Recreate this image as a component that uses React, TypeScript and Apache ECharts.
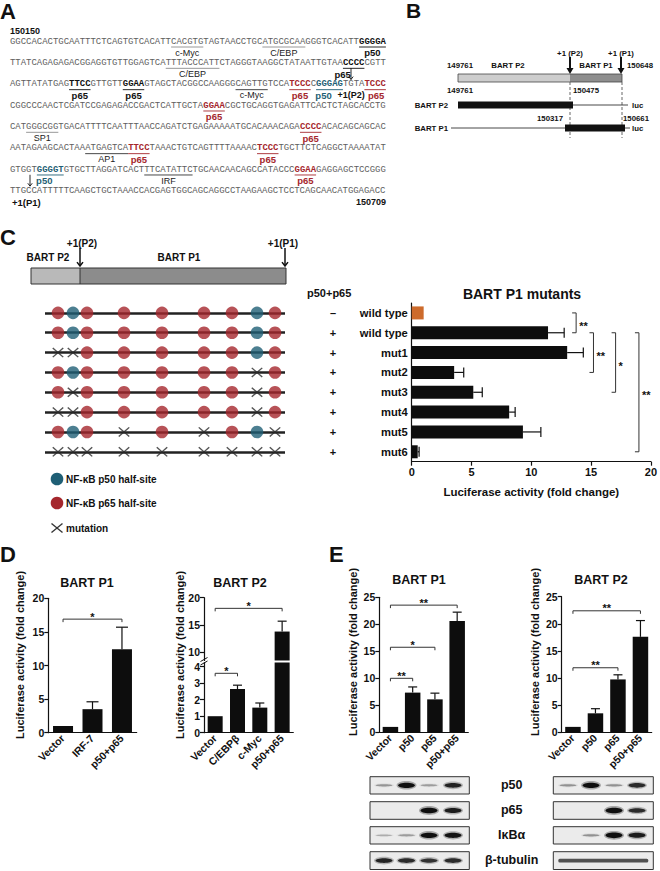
import React, { useEffect, useRef } from "react";
import * as echarts from "echarts";

const SANS = "'Liberation Sans', Arial, Helvetica, sans-serif";
const MONO = "'Liberation Mono', 'DejaVu Sans Mono', monospace";
const INK = "#111111";
const RED = "#a5272d";
const BLUE = "#1f5f75";
const ORANGE = "#cd6b2c";
const SEQ_GRAY = "#5e5e5e";

// ---------------- Panel A: sequence ----------------
const seqStartLabel = "150150";
const seqEndLabel = "150709";
const seqLines = [
  "GGCCACACTGCAATTTCTCAGTGTCACATTCACGTGTAGTAACCTGCATGCGCAAGGGTCACATTGGGGA",
  "TTATCAGAGAGACGGAGGTGTTGGAGTCATTTACCCATTCTAGGGTAAGGCTATAATTGTAACCCCCGTT",
  "AGTTATATGAGTTCCGTTGTTGGAAGTAGCTACGGCCAAGGGCAGTTGTCCATCCCCGGGAGTGTATCCC",
  "CGGCCCAACTCGATCCGAGAGACCGACTCATTGCTAGGAACGCTGCAGGTGAGATTCACTCTAGCACCTG",
  "CATGGGCGGTGACATTTTCAATTTAACCAGATCTGAGAAAAATGCACAAACAGACCCCACACAGCAGCAC",
  "AATAGAAGCACTAAATGAGTCATTCCTAAACTGTCAGTTTTAAAACTCCCTGCTTCTCAGGCTAAAATAT",
  "GTGGTGGGGTGTGCTTAGGATCACTTTCATATTCTGCAACAACAGCCATACCCGGAAGAGGAGCTCCGGG",
  "TTGCCATTTTTCAAGCTGCTAAACCACGAGTGGCAGCAGGCCTAAGAAGCTCCTCAGCAACATGGAGACC",
];
// [line, start, end(incl), kind, label, labelDx]
const seqFeatures: [number, number, number, string, string, number][] = [
  [0, 30, 35, "tf", "c-Myc", 0],
  [0, 47, 54, "tf", "C/EBP", 0],
  [0, 65, 69, "k", "p50", 0],
  [1, 29, 38, "tf", "C/EBP", 0],
  [1, 62, 65, "k", "p65", -11],
  [2, 11, 14, "k", "p65", 0],
  [2, 21, 24, "k", "p65", 0],
  [2, 42, 47, "tf2", "c-Myc", 0],
  [2, 52, 55, "r", "p65", 0],
  [2, 57, 61, "b", "p50", -6],
  [2, 66, 69, "r", "p65", 1],
  [3, 36, 39, "r", "p65", 0],
  [4, 3, 8, "tf", "SP1", 0],
  [4, 54, 57, "r", "p65", 0],
  [5, 14, 21, "tf2", "AP1", 0],
  [5, 22, 25, "r", "p65", 0],
  [5, 46, 49, "r", "p65", 0],
  [6, 5, 9, "b", "p50", -6],
  [6, 25, 33, "tf2", "IRF", 0],
  [6, 53, 56, "r", "p65", 0],
];

// ---------------- Panel C: site diagram ----------------
const sitePositions = [13, 28, 42, 79, 117, 159, 187, 212, 230];
const siteTypes = ["p65", "p50", "p65", "p65", "p65", "p65", "p65", "p50", "p65"];
const mutatedSites: number[][] = [
  [],
  [],
  [0, 1],
  [7],
  [1, 7],
  [0, 1, 7],
  [3, 5, 8],
  [0, 1, 2, 3, 4, 5, 6, 7, 8],
];

// ---------------- Panel C: bar chart ----------------
const cCategories = ["wild type", "wild type", "mut1", "mut2", "mut3", "mut4", "mut5", "mut6"];
const cSigns = ["–", "+", "+", "+", "+", "+", "+", "+"];
const cMeans = [1.0, 11.4, 13.0, 3.55, 5.15, 8.15, 9.3, 0.5];
const cErrTop = [1.0, 12.75, 14.35, 4.35, 5.9, 8.65, 10.8, 0.62];
const cSig: [number, number, number, string][] = [
  [0, 1, 13.75, "**"],
  [1, 3, 15.2, "**"],
  [1, 4, 17.05, "*"],
  [1, 7, 19.0, "**"],
];

// ---------------- Panel D ----------------
const d1Categories = ["Vector", "IRF-7", "p50+p65"];
const d1Means = [1.0, 3.5, 12.4];
const d1ErrTop = [1.0, 4.6, 15.7];
const d1Sig: [number, number, number, string][] = [[0, 2, 16.9, "*"]];

const d2Categories = ["Vector", "C/EBPβ", "c-Myc", "p50+p65"];
const d2Means = [1.0, 2.65, 1.52, 13.8];
const d2ErrTop = [1.0, 2.88, 1.8, 15.7];
const d2LowerMax = 4.25;
const d2UpperMin = 8.5;
const d2LowerTicks = [0, 1, 2, 3, 4];
const d2UpperTicks = [10, 15, 20];
const d2Sig: [number, number, number, string][] = [
  [0, 1, 3.6, "*"],
  [0, 3, 18.05, "*"],
];

// ---------------- Panel E ----------------
const eCategories = ["Vector", "p50", "p65", "p50+p65"];
const e1Means = [1.0, 7.35, 6.1, 20.6];
const e1ErrTop = [1.0, 8.4, 7.25, 22.25];
const e1Sig: [number, number, number, string][] = [
  [0, 3, 23.55, "**"],
  [0, 2, 15.75, "*"],
  [0, 1, 10.0, "**"],
];
const e2Means = [1.0, 3.5, 9.75, 17.6];
const e2ErrTop = [1.0, 4.35, 10.6, 20.6];
const e2Sig: [number, number, number, string][] = [
  [0, 3, 22.4, "**"],
  [0, 2, 11.9, "**"],
];

// Western blot band intensities (lanes: Vector, p50, p65, p50+p65)
const blotRows = ["p50", "p65", "IκBα", "β-tubulin"];
const blotLeft = [
  [0.18, 0.95, 0.15, 0.8],
  [0, 0, 1, 0.85],
  [0.08, 0.15, 0.95, 0.9],
  [0.8, 0.75, 0.7, 0.75],
];
const blotRight = [
  [0.2, 0.95, 0.2, 0.75],
  [0, 0, 1, 0.75],
  [0, 0.2, 1, 0.85],
  [0.65, 0.65, 0.65, 0.65],
];

function buildOption() {
  const g: any[] = [];
  const txt = (text: string, x: number, y: number, o: any = {}) => {
    const align = o.align || "left";
    const va = o.verticalAlign || "middle";
    g.push({
      type: "text",
      x,
      y,
      rotation: o.rotation || 0,
      silent: true,
      style: {
        text,
        fill: o.fill || INK,
        fontSize: o.fontSize || 9,
        fontWeight: o.fontWeight || "normal",
        fontFamily: o.fontFamily || SANS,
        align,
        verticalAlign: va,
        textAlign: align,
        textVerticalAlign: va,
      },
    });
  };
  const line = (x1: number, y1: number, x2: number, y2: number, stroke = INK, lineWidth = 1, extra: any = {}) =>
    g.push({ type: "line", silent: true, shape: { x1, y1, x2, y2 }, style: { stroke, lineWidth, ...extra } });
  const rect = (x: number, y: number, width: number, height: number, fill: string, stroke?: string, lw = 1) =>
    g.push({
      type: "rect",
      silent: true,
      shape: { x, y, width, height },
      style: { fill, stroke: stroke || "none", lineWidth: lw },
    });
  const filledArrow = (x: number, y1: number, y2: number) => {
    line(x, y1, x, y2 - 5, INK, 2);
    g.push({
      type: "polygon",
      silent: true,
      shape: { points: [[x - 3.5, y2 - 6], [x + 3.5, y2 - 6], [x, y2]] },
      style: { fill: INK },
    });
  };
  const chevronArrow = (x: number, y1: number, y2: number, lw: number, hw: number) => {
    line(x, y1, x, y2, INK, lw);
    g.push({
      type: "polyline",
      silent: true,
      shape: { points: [[x - hw, y2 - hw * 1.3], [x, y2], [x + hw, y2 - hw * 1.3]] },
      style: { stroke: INK, lineWidth: lw, fill: "none" },
    });
  };

  // ---------- Panel A ----------
  txt("A", 0, 11, { fontSize: 22, fontWeight: "bold" });
  txt(seqStartLabel, 10, 31, { fontSize: 9, fontWeight: "bold" });
  const X0 = 10;
  const CW = 5.37;
  const SEQ_FS = 8.95;
  const LY0 = 41.8;
  const LDY = 21.33;
  const colorMap: any = { n: SEQ_GRAY, k: INK, r: RED, b: BLUE };
  seqLines.forEach((seq, li) => {
    const y = LY0 + li * LDY;
    const feats = seqFeatures.filter((f) => f[0] === li).sort((a, b) => a[1] - b[1]);
    let pos = 0;
    const seg = (s: number, e: number, kind: string) => {
      g.push({
        type: "text",
        x: X0 + s * CW,
        y,
        silent: true,
        style: {
          text: seq.slice(s, e),
          fill: colorMap[kind],
          fontFamily: MONO,
          fontSize: SEQ_FS,
          fontWeight: kind === "n" ? "normal" : "bold",
          align: "left",
          verticalAlign: "middle",
          textAlign: "left",
          textVerticalAlign: "middle",
        },
      });
    };
    for (const f of feats) {
      const [, s, e, kind, label, dx] = f;
      const isTF = kind.startsWith("tf");
      if (s > pos) seg(pos, s, "n");
      seg(s, e + 1, isTF ? "n" : kind);
      pos = e + 1;
      const ul = kind === "tf" ? "#8c8c8c" : kind === "tf2" ? "#333333" : colorMap[kind];
      line(X0 + s * CW, y + 5.2, X0 + (e + 1) * CW, y + 5.2, ul, 0.9);
      const cx = X0 + ((s + e + 1) / 2) * CW + dx;
      txt(label, cx, y + 11, {
        align: "center",
        fontSize: isTF ? 9 : 9.5,
        fontWeight: isTF ? "normal" : "bold",
        fill: isTF ? "#222" : colorMap[kind],
      });
    }
    if (pos < seq.length) seg(pos, seq.length, "n");
  });
  // +1(P2) arrow and label
  txt("+1(P2)", 351, LY0 + 2 * LDY + 11, { align: "center", fontSize: 9, fontWeight: "bold" });
  chevronArrow(351, LY0 + LDY + 5, LY0 + 2 * LDY - 5, 0.9, 2.2);
  // +1(P1)
  chevronArrow(30, LY0 + 6 * LDY + 5, LY0 + 7 * LDY - 5, 0.9, 2.2);
  txt("+1(P1)", 12, LY0 + 7 * LDY + 11, { fontSize: 9.5, fontWeight: "bold" });
  txt(seqEndLabel, 386, LY0 + 7 * LDY + 11, { align: "right", fontSize: 9, fontWeight: "bold" });

  // ---------- Panel B ----------
  const bf = { fontSize: 7.8, fontWeight: "bold" };
  txt("B", 406, 10, { fontSize: 21, fontWeight: "bold" });
  txt("+1 (P2)", 570, 53, { ...bf, align: "center" });
  txt("+1 (P1)", 621, 53, { ...bf, align: "center" });
  txt("149761", 460, 65, { ...bf, align: "center" });
  txt("BART P2", 508, 65, { ...bf, align: "center" });
  txt("BART P1", 596, 65, { ...bf, align: "center" });
  txt("150648", 627, 65, { ...bf });
  rect(458, 74, 112, 8, "#cdcdcd");
  rect(570, 74, 52, 8, "#8e8e8e");
  rect(458, 74, 164, 8, "none", "#444", 0.8);
  filledArrow(570, 57, 74);
  filledArrow(621, 57, 74);
  line(570, 82, 570, 138, "#555", 0.9, { lineDash: [3, 2] });
  line(622, 82, 622, 138, "#555", 0.9, { lineDash: [3, 2] });
  txt("149761", 460, 90, { ...bf, align: "center" });
  txt("150475", 586, 90, { ...bf, align: "center" });
  txt("BART P2", 448, 105, { ...bf, align: "right" });
  rect(458, 101.5, 115, 7, INK);
  line(573, 105, 628, 105, "#333", 0.9);
  txt("luc", 632, 105, { ...bf });
  txt("150317", 563, 118, { ...bf, align: "right" });
  txt("150661", 623, 118, { ...bf });
  txt("BART P1", 448, 128, { ...bf, align: "right" });
  line(451, 128, 565, 128, "#333", 0.9);
  rect(565, 124.5, 60, 7, INK);
  line(625, 128, 630, 128, "#333", 0.9);
  txt("luc", 632, 128, { ...bf });

  // ---------- Panel C header ----------
  txt("C", 0, 237, { fontSize: 22, fontWeight: "bold" });
  txt("+1(P2)", 82, 243, { align: "center", fontSize: 10, fontWeight: "bold" });
  txt("+1(P1)", 283, 243, { align: "center", fontSize: 10, fontWeight: "bold" });
  txt("BART P2", 48, 257, { align: "center", fontSize: 10, fontWeight: "bold" });
  txt("BART P1", 179, 257, { align: "center", fontSize: 10, fontWeight: "bold" });
  rect(31, 268, 49, 16, "#b9b9b9");
  rect(80, 268, 206, 16, "#8c8c8c");
  rect(31, 268, 255, 16, "none", "#333", 1);
  line(80, 268, 80, 284, "#333", 1);
  chevronArrow(80, 248, 266, 1.5, 3);
  chevronArrow(285, 248, 266, 1.5, 3);
  // legend
  g.push({ type: "circle", silent: true, shape: { cx: 57, cy: 479, r: 6.3 }, style: { fill: BLUE } });
  txt("NF-κB p50 half-site", 66, 479, { fontSize: 10, fontWeight: "bold" });
  g.push({ type: "circle", silent: true, shape: { cx: 57, cy: 503, r: 6.3 }, style: { fill: RED } });
  txt("NF-κB p65 half-site", 66, 503, { fontSize: 10, fontWeight: "bold" });
  line(51.5, 523.5, 62.5, 532.5, "#333", 1.3);
  line(62.5, 523.5, 51.5, 532.5, "#333", 1.3);
  txt("mutation", 66, 528, { fontSize: 10, fontWeight: "bold" });
  txt("p50+p65", 307, 293, { fontSize: 11, fontWeight: "bold" });
  txt("BART P1 mutants", 522, 294, { align: "center", fontSize: 14, fontWeight: "bold" });

  // ---------- Panel D / E titles & axis names ----------
  txt("D", 0, 554, { fontSize: 22, fontWeight: "bold" });
  txt("E", 329, 554, { fontSize: 22, fontWeight: "bold" });
  const titleF = { align: "center", fontSize: 12.5, fontWeight: "bold" };
  txt("BART P1", 87, 583, titleF);
  txt("BART P2", 240, 583, titleF);
  txt("BART P1", 419, 580, titleF);
  txt("BART P2", 601, 580, titleF);
  const yName = "Luciferase activity (fold change)";
  const nameF = { align: "center", fontSize: 11, fontWeight: "bold", rotation: Math.PI / 2 };
  txt(yName, 20, 655, nameF);
  txt(yName, 180, 655, nameF);
  txt(yName, 353, 652, nameF);
  txt(yName, 535, 652, nameF);
  // axis break marks (D, BART P2)
  line(200.5, 665, 207.5, 661, INK, 1);
  line(200.5, 661.5, 207.5, 657.5, INK, 1);

  // ---------- Western blots ----------
  const boxRows = [
    [776.7, 794],
    [801.7, 819.3],
    [826.7, 844],
    [851.7, 869.5],
  ];
  const drawBlot = (x0: number, x1: number, lanes: number[], data: number[][], continuousLast: boolean) => {
    boxRows.forEach(([y0, y1], ri) => {
      rect(x0, y0, x1 - x0, y1 - y0, "#ebebeb", "#333", 1);
      const cy = (y0 + y1) / 2;
      if (continuousLast && ri === 3) {
        g.push({
          type: "rect",
          silent: true,
          shape: { x: x0 + 5, y: cy - 1.8, width: x1 - x0 - 10, height: 3.6, r: 1.5 },
          style: { fill: "rgba(30,30,30,0.75)" },
        });
        return;
      }
      data[ri].forEach((I, li) => {
        if (I <= 0) return;
        g.push({
          type: "ellipse",
          silent: true,
          shape: { cx: lanes[li], cy, rx: 10, ry: 1.6 + 2.8 * I },
          style: { fill: `rgba(40,40,40,${0.35 * I})` },
        });
        g.push({
          type: "ellipse",
          silent: true,
          shape: { cx: lanes[li], cy, rx: 8.5, ry: 0.8 + 2.0 * I },
          style: { fill: `rgba(15,15,15,${Math.min(1, 0.2 + 0.85 * I)})` },
        });
      });
    });
  };
  drawBlot(370, 469.3, [384, 406.5, 429, 453], blotLeft, false);
  drawBlot(553.3, 653.3, [568, 591, 614, 637], blotRight, true);
  const blotLabelY = [785, 810, 835, 860];
  blotRows.forEach((r, i) => txt(r, 511.7, blotLabelY[i], { align: "center", fontSize: 12.5, fontWeight: "bold" }));

  // ---------- axes helpers ----------
  const lbl = { color: INK, fontWeight: "bold", fontFamily: SANS };
  const valAxis = (gridIndex: number, min: number, max: number, interval: number | undefined, extra: any = {}) => ({
    type: "value",
    gridIndex,
    min,
    max,
    interval,
    axisLine: { show: true, lineStyle: { color: INK, width: 1.2 } },
    axisTick: { show: true, inside: false, length: 4, lineStyle: { color: INK, width: 1.2 } },
    axisLabel: { ...lbl, fontSize: 10.5, margin: 4 },
    splitLine: { show: false },
    ...extra,
  });
  const catX = (gridIndex: number, data: string[], show = true) => ({
    type: "category",
    gridIndex,
    data,
    show,
    axisLine: { show: true, lineStyle: { color: INK, width: 1.2 } },
    axisTick: { show: false },
    axisLabel: { ...lbl, fontSize: 10.5, rotate: 45, margin: 4, interval: 0 },
  });

  const vErr = (xi: number, yi: number, means: number[], tops: number[], capHalf: number, filter?: (t: number) => boolean) => ({
    type: "custom",
    xAxisIndex: xi,
    yAxisIndex: yi,
    silent: true,
    z: 3,
    data: means
      .map((m, i) => [i, m, tops[i]])
      .filter((d) => d[2] > d[1] && (!filter || filter(d[2]))),
    renderItem: (p: any, api: any) => {
      const i = api.value(0);
      const a = api.coord([i, api.value(1)]);
      const b = api.coord([i, api.value(2)]);
      return {
        type: "group",
        children: [
          { type: "line", shape: { x1: a[0], y1: a[1], x2: b[0], y2: b[1] }, style: { stroke: INK, lineWidth: 1.2 } },
          { type: "line", shape: { x1: b[0] - capHalf, y1: b[1], x2: b[0] + capHalf, y2: b[1] }, style: { stroke: INK, lineWidth: 1.2 } },
        ],
      };
    },
  });
  const vSig = (xi: number, yi: number, sigs: [number, number, number, string][]) => ({
    type: "custom",
    xAxisIndex: xi,
    yAxisIndex: yi,
    silent: true,
    z: 3,
    data: sigs.map((s) => [s[0], s[1], s[2]]),
    renderItem: (p: any, api: any) => {
      const lev = api.value(2);
      const a = api.coord([api.value(0), lev]);
      const b = api.coord([api.value(1), lev]);
      const label = sigs[p.dataIndex][3];
      return {
        type: "group",
        children: [
          {
            type: "polyline",
            shape: { points: [[a[0], a[1] + 3], [a[0], a[1]], [b[0], b[1]], [b[0], b[1] + 3]] },
            style: { stroke: "#333", lineWidth: 1, fill: "none" },
          },
          {
            type: "text",
            style: {
              text: label,
              x: (a[0] + b[0]) / 2,
              y: a[1] + 3,
              fill: INK,
              fontSize: 11,
              fontWeight: "bold",
              fontFamily: SANS,
              align: "center",
              verticalAlign: "bottom",
              textAlign: "center",
              textVerticalAlign: "bottom",
            },
          },
        ],
      };
    },
  });
  const bars = (xi: number, yi: number, data: any[], barWidth: number) => ({
    type: "bar",
    xAxisIndex: xi,
    yAxisIndex: yi,
    data,
    barWidth,
    silent: true,
    clip: true,
    itemStyle: { color: "#0d0d0d" },
  });

  // ---------- site diagram series ----------
  const p65Pts: number[][] = [];
  const p50Pts: number[][] = [];
  const mutPts: number[][] = [];
  mutatedSites.forEach((muts, r) => {
    sitePositions.forEach((pos, s) => {
      if (muts.includes(s)) mutPts.push([pos, r]);
      else if (siteTypes[s] === "p50") p50Pts.push([pos, r]);
      else p65Pts.push([pos, r]);
    });
  });
  const X_PATH =
    "path://M0,0.9L0.9,0L5,4.1L9.1,0L10,0.9L5.9,5L10,9.1L9.1,10L5,5.9L0.9,10L0,9.1L4.1,5Z";

  const option: any = {
    animation: false,
    backgroundColor: "#ffffff",
    textStyle: { fontFamily: SANS },
    grid: [
      { left: 45, top: 312.9, width: 240, height: 138.9 },
      { left: 411.7, top: 303, width: 243.3, height: 158.7 },
      { left: 48.3, top: 598.3, width: 88.4, height: 134.4 },
      { left: 204, top: 732.7 - d2LowerMax * 16.5, width: 89.3, height: d2LowerMax * 16.5 },
      { left: 204, top: 597.7, width: 89.3, height: (20 - d2UpperMin) * 5.46 },
      { left: 379.3, top: 597.3, width: 89, height: 135 },
      { left: 561.7, top: 596.7, width: 90, height: 135.6 },
    ],
    xAxis: [
      { type: "value", gridIndex: 0, min: 0, max: 240, show: false },
      valAxis(1, 0, 20, 5, {
        axisLabel: { ...lbl, fontSize: 11, margin: 5 },
        name: "Luciferase activity (fold change)",
        nameLocation: "middle",
        nameGap: 24,
        nameTextStyle: { ...lbl, fontSize: 11.5 },
      }),
      catX(2, d1Categories),
      catX(3, d2Categories),
      catX(4, d2Categories, false),
      catX(5, eCategories),
      catX(6, eCategories),
    ],
    yAxis: [
      {
        type: "category",
        gridIndex: 0,
        data: mutatedSites.map((_, i) => `row${i + 1}`),
        inverse: true,
        boundaryGap: false,
        axisLine: { show: false },
        axisTick: { show: false },
        axisLabel: { show: false },
        splitLine: { show: true, interval: 0, lineStyle: { color: "#222", width: 2.6 } },
      },
      {
        type: "category",
        gridIndex: 1,
        data: cCategories,
        inverse: true,
        axisLine: { show: true, lineStyle: { color: INK, width: 1.2 } },
        axisTick: { show: false },
        axisLabel: { ...lbl, fontSize: 11.2, margin: 4, interval: 0 },
      },
      {
        type: "category",
        gridIndex: 1,
        data: cSigns,
        inverse: true,
        position: "left",
        offset: 78.7,
        axisLine: { show: false },
        axisTick: { show: false },
        axisLabel: { ...lbl, fontSize: 11, margin: 0, align: "center", interval: 0 },
      },
      valAxis(2, 0, 20, 5),
      valAxis(3, 0, d2LowerMax, undefined, {
        axisTick: { show: true, length: 4, lineStyle: { color: INK, width: 1.2 }, customValues: d2LowerTicks },
        axisLabel: { ...lbl, fontSize: 10.5, margin: 4, customValues: d2LowerTicks },
      }),
      valAxis(4, d2UpperMin, 20, undefined, {
        axisTick: { show: true, length: 4, lineStyle: { color: INK, width: 1.2 }, customValues: d2UpperTicks },
        axisLabel: { ...lbl, fontSize: 10.5, margin: 4, customValues: d2UpperTicks },
      }),
      valAxis(5, 0, 25, 5),
      valAxis(6, 0, 25, 5),
    ],
    series: [
      {
        type: "scatter",
        xAxisIndex: 0,
        yAxisIndex: 0,
        data: p65Pts,
        symbol: "circle",
        symbolSize: 12.6,
        itemStyle: { color: RED },
        silent: true,
        z: 3,
      },
      {
        type: "scatter",
        xAxisIndex: 0,
        yAxisIndex: 0,
        data: p50Pts,
        symbol: "circle",
        symbolSize: 12.6,
        itemStyle: { color: BLUE },
        silent: true,
        z: 3,
      },
      {
        type: "scatter",
        xAxisIndex: 0,
        yAxisIndex: 0,
        data: mutPts,
        symbol: X_PATH,
        symbolSize: [11.5, 10],
        symbolKeepAspect: false,
        itemStyle: { color: "#2a2a2a" },
        silent: true,
        z: 3,
      },
      // panel C bars
      {
        type: "bar",
        xAxisIndex: 1,
        yAxisIndex: 1,
        barWidth: 13,
        silent: true,
        data: cMeans.map((v, i) => ({ value: v, itemStyle: { color: i === 0 ? ORANGE : "#0d0d0d" } })),
      },
      {
        type: "custom",
        xAxisIndex: 1,
        yAxisIndex: 1,
        silent: true,
        z: 3,
        data: cMeans.map((m, i) => [m, i, cErrTop[i]]).filter((d) => d[2] > d[0]),
        renderItem: (p: any, api: any) => {
          const i = api.value(1);
          const a = api.coord([api.value(0), i]);
          const b = api.coord([api.value(2), i]);
          return {
            type: "group",
            children: [
              { type: "line", shape: { x1: a[0], y1: a[1], x2: b[0], y2: b[1] }, style: { stroke: INK, lineWidth: 1.2 } },
              { type: "line", shape: { x1: b[0], y1: b[1] - 5, x2: b[0], y2: b[1] + 5 }, style: { stroke: INK, lineWidth: 1.2 } },
            ],
          };
        },
      },
      {
        type: "custom",
        xAxisIndex: 1,
        yAxisIndex: 1,
        silent: true,
        z: 3,
        data: cSig.map((s) => [s[2], s[0], s[1]]),
        renderItem: (p: any, api: any) => {
          const lev = api.value(0);
          const a = api.coord([lev, api.value(1)]);
          const b = api.coord([lev, api.value(2)]);
          return {
            type: "group",
            children: [
              {
                type: "polyline",
                shape: { points: [[a[0] - 4, a[1]], [a[0], a[1]], [b[0], b[1]], [b[0] - 4, b[1]]] },
                style: { stroke: "#333", lineWidth: 1, fill: "none" },
              },
              {
                type: "text",
                style: {
                  text: cSig[p.dataIndex][3],
                  x: a[0] + 3,
                  y: (a[1] + b[1]) / 2 + 3,
                  fill: INK,
                  fontSize: 11,
                  fontWeight: "bold",
                  fontFamily: SANS,
                  align: "left",
                  verticalAlign: "middle",
                  textAlign: "left",
                  textVerticalAlign: "middle",
                },
              },
            ],
          };
        },
      },
      // panel D BART P1
      bars(2, 3, d1Means, 20),
      vErr(2, 3, d1Means, d1ErrTop, 6),
      vSig(2, 3, d1Sig),
      // panel D BART P2 (broken axis)
      bars(3, 4, d2Means, 15),
      bars(4, 5, d2Means.map((v) => (v > d2LowerMax ? v : "-")), 15),
      vErr(3, 4, d2Means, d2ErrTop, 4.5, (t) => t <= d2LowerMax),
      vErr(4, 5, d2Means, d2ErrTop, 4.5, (t) => t > d2LowerMax),
      vSig(3, 4, d2Sig.filter((s) => s[2] <= d2LowerMax)),
      vSig(4, 5, d2Sig.filter((s) => s[2] > d2LowerMax)),
      // panel E
      bars(5, 6, e1Means, 15.5),
      vErr(5, 6, e1Means, e1ErrTop, 4.5),
      vSig(5, 6, e1Sig),
      bars(6, 7, e2Means, 15.5),
      vErr(6, 7, e2Means, e2ErrTop, 4.5),
      vSig(6, 7, e2Sig),
    ],
    graphic: { elements: g },
  };
  return option;
}

export default function App() {
  const ref = useRef<HTMLDivElement>(null);
  useEffect(() => {
    document.body.style.margin = "0";
    const chart = echarts.init(ref.current!, null, { renderer: "svg" });
    chart.setOption(buildOption());
    return () => chart.dispose();
  }, []);
  return <div ref={ref} style={{ width: 660, height: 871, background: "#fff" }} />;
}
